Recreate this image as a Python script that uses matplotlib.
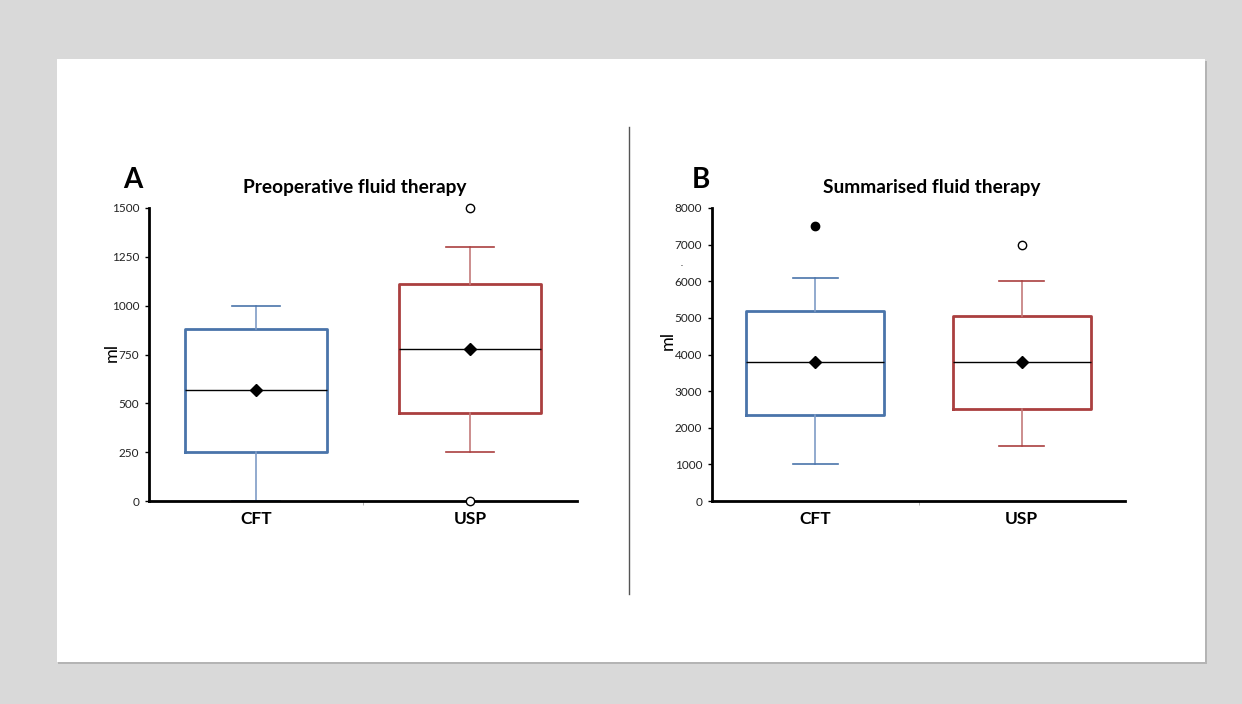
import matplotlib.pyplot as plt
import matplotlib.patches as patches

plt.rcParams['font.family'] = ['Lato', 'DejaVu Sans']

groups = ["CFT", "USP"]

# panel A: preoperative fluid therapy (ml)
pre_q1 = [250, 450]
pre_med = [570, 780]
pre_q3 = [880, 1110]
pre_lo = [0, 250]
pre_hi = [1000, 1300]
pre_mean = [570, 780]
pre_fliers = [[], [1500, 0]]

# panel B: summarised fluid therapy (ml)
sum_q1 = [2350, 2500]
sum_med = [3800, 3800]
sum_q3 = [5200, 5050]
sum_lo = [1000, 1500]
sum_hi = [6100, 6000]
sum_mean = [3800, 3800]
sum_fliers = [[7500], [7000]]
sum_flier_filled = [True, False]

colors = ["#4a74aa", "#aa3f3f"]
light = ["#7f9cc6", "#c47a7a"]

W, H = 1242, 704
fig = plt.figure(figsize=(W / 100, H / 100), dpi=100)
fig.patch.set_facecolor("#d9d9d9")

def px(x0, y0, x1, y1):
    return [x0 / W, 1 - y1 / H, (x1 - x0) / W, (y1 - y0) / H]

def ftext(x, y, s, **kw):
    fig.text(x / W, 1 - y / H, s, ha="center", va="center", **kw)

# slide paper with soft shadow
sh = px(58, 61, 1207, 664)
fig.patches.append(patches.Rectangle((sh[0], sh[1]), sh[2], sh[3], transform=fig.transFigure,
                                     facecolor="#b4b4b4", edgecolor="none", zorder=-10))
pp = px(57, 59, 1205, 662)
fig.patches.append(patches.Rectangle((pp[0], pp[1]), pp[2], pp[3], transform=fig.transFigure,
                                     facecolor="white", edgecolor="none", zorder=-9))
# divider
fig.add_artist(plt.Line2D([629 / W, 629 / W], [1 - 127 / H, 1 - 594 / H], color="#555555", lw=1))


def panel(rect, q1, med, q3, lo, hi, mean, fliers, ymax, yticks, filled):
    ax = fig.add_axes(px(*rect))
    ax.patch.set_alpha(0)
    for i in range(2):
        st = [dict(q1=q1[i], med=med[i], q3=q3[i], whislo=lo[i], whishi=hi[i],
                   mean=mean[i], fliers=[], label=groups[i])]
        ax.bxp(st, positions=[i + 1], widths=0.668, showmeans=True, showfliers=False,
               boxprops=dict(color=colors[i], lw=2),
               whiskerprops=dict(color=light[i], lw=1.2),
               capprops=dict(color=colors[i], lw=1.2),
               capwidths=0.22,
               medianprops=dict(color="black", lw=1),
               meanprops=dict(marker="D", markerfacecolor="black", markeredgecolor="black",
                              markersize=6))
        for v in fliers[i]:
            ax.plot(i + 1, v, "o", ms=6, mfc="black" if filled[i] else "white",
                    mec="black", mew=1, clip_on=False, zorder=5)
    ax.set_xlim(0.5, 2.5)
    ax.set_ylim(0, ymax)
    ax.set_yticks(yticks)
    ax.set_xticks([1, 2])
    ax.set_xticklabels(groups, fontweight="bold", fontsize=12.5)
    ax.set_xticks([1.5], minor=True)
    ax.tick_params(axis="x", which="major", length=0, pad=7)
    ax.tick_params(axis="x", which="minor", length=3, color="#aaaaaa")
    ax.tick_params(axis="y", labelsize=8.5, length=3, width=1, pad=4, labelcolor="#222222")
    for s in ["top", "right"]:
        ax.spines[s].set_visible(False)
    for s in ["left", "bottom"]:
        ax.spines[s].set_linewidth(2)
    return ax


panel((149, 208, 577, 501), pre_q1, pre_med, pre_q3, pre_lo, pre_hi, pre_mean, pre_fliers,
      1500, [0, 250, 500, 750, 1000, 1250, 1500], [False, False])
panel((712, 208, 1125, 501), sum_q1, sum_med, sum_q3, sum_lo, sum_hi, sum_mean, sum_fliers,
      8000, list(range(0, 8001, 1000)), sum_flier_filled)

ftext(133, 180, "A", fontsize=20, fontweight="bold")
ftext(701, 180, "B", fontsize=20, fontweight="bold")
ftext(355, 188, "Preoperative fluid therapy", fontsize=13.8, fontweight="bold")
ftext(932, 188, "Summarised fluid therapy", fontsize=13.8, fontweight="bold")
ftext(112, 352, "ml", fontsize=13, rotation=90)
ftext(668, 340, "ml", fontsize=13, rotation=90)
ftext(682, 264, ".", fontsize=6)

fig.savefig("out.png", dpi=100, facecolor=fig.get_facecolor())
